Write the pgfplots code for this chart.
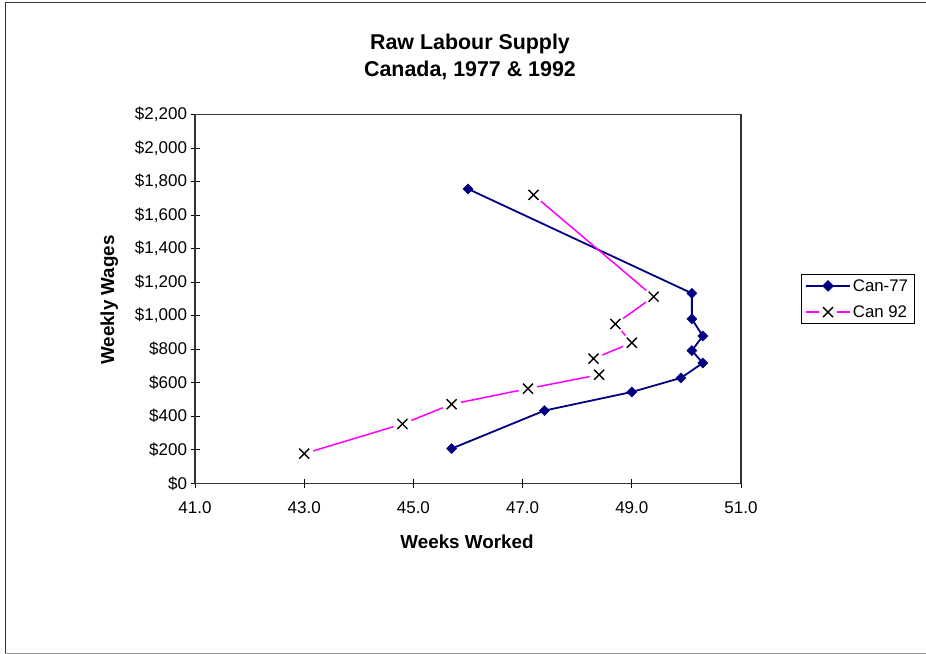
\documentclass[border=0pt]{standalone}
\usepackage{fontspec}
\setmainfont{Liberation Sans}
\usepackage{pgfplots}
\pgfplotsset{compat=1.18}
\definecolor{navy77}{RGB}{0,0,128}
\definecolor{mag92}{RGB}{255,0,255}
\pgfdeclareplotmark{wx}{%
  \pgfpathcircle{\pgfpointorigin}{9.5bp}%
  \pgfusepathqfill
  \pgfpathmoveto{\pgfqpoint{-5bp}{-5bp}}\pgfpathlineto{\pgfqpoint{5bp}{5bp}}%
  \pgfpathmoveto{\pgfqpoint{-5bp}{5bp}}\pgfpathlineto{\pgfqpoint{5bp}{-5bp}}%
  \pgfusepathqstroke}
\begin{document}
\begin{tikzpicture}
\path[use as bounding box] (0,0) rectangle (926bp,654bp);
\draw[black!80, line width=1bp] (5bp,0.8bp) -- (5bp,651.5bp) -- (926bp,651.5bp);
\draw[black!40, line width=1bp] (5bp,0.8bp) -- (926bp,0.8bp);
\begin{axis}[
  at={(195bp,170.7bp)}, anchor=south west,
  scale only axis, width=546bp, height=368.6bp,
  xmin=41, xmax=51, ymin=0, ymax=2200,
  xtick={41,43,45,47,49,51},
  ytick={0,200,400,600,800,1000,1200,1400,1600,1800,2000,2200},
  xtick pos=lower, ytick pos=left,
  tick align=center, major tick length=9bp,
  tick style={black, line width=1bp},
  axis line style={black!80, line width=1.2bp},
  /pgf/number format/assume math mode=true,
  xticklabel style={/pgf/number format/fixed, /pgf/number format/fixed zerofill, /pgf/number format/precision=1, yshift=-10bp},
  yticklabel={\$\pgfmathprintnumber[1000 sep={,}, fixed, precision=0]{\tick}},
  ticklabel style={font=\fontsize{17bp}{20bp}\selectfont},
  legend style={at={(1,0.5)}, anchor=west, xshift=59.7bp, draw=black, line width=0.8bp,
    font=\fontsize{16.8bp}{19bp}\selectfont, inner xsep=4bp, inner ysep=3bp, row sep=9bp},
  legend cell align=left,
]
\addplot[navy77, line width=1.8bp, mark=diamond*, mark size=5bp,
  mark options={solid, fill=navy77, draw=navy77, line width=0.5bp, xscale=1.333},
  legend image code/.code={\draw[navy77, line width=1.8bp] (0bp,0bp) -- (44bp,0bp);
    \path[fill=navy77, draw=navy77, line width=0.5bp] (22bp,5.5bp) -- (27.5bp,0bp) -- (22bp,-5.5bp) -- (16.5bp,0bp) -- cycle;}]
  coordinates {(46.0,1757)(50.1,1134)(50.1,981)(50.3,879)(50.1,792)(50.3,718)(49.9,629)(49.0,545)(47.4,434)(45.7,207)};
\addlegendentry{Can-77}
\addplot[mag92, line width=1.5bp, mark=wx,
  mark options={solid, fill=white, draw=black, line width=1.4bp},
  legend image code/.code={\draw[mag92, line width=1.5bp] (0bp,0bp) -- (13bp,0bp) (31bp,0bp) -- (44bp,0bp);
    \draw[black, line width=1.4bp] (17bp,-5bp) -- (27bp,5bp) (17bp,5bp) -- (27bp,-5bp);}]
  coordinates {(47.2,1721)(49.4,1114)(48.7,951)(49.0,839)(48.3,744)(48.4,648)(47.1,565)(45.7,472)(44.8,354)(43.0,177)};
\addlegendentry{Can 92}
\end{axis}
\node[anchor=base, font=\bfseries\fontsize{21.4bp}{25bp}\selectfont] at (470bp,604bp) {Raw Labour Supply};
\node[anchor=base, font=\bfseries\fontsize{21.4bp}{25bp}\selectfont] at (470bp,577bp) {Canada, 1977 \& 1992};
\node[anchor=base, font=\bfseries\fontsize{18.8bp}{22bp}\selectfont] at (467bp,105.7bp) {Weeks Worked};
\node[anchor=base, rotate=90, font=\bfseries\fontsize{18.8bp}{22bp}\selectfont] at (114bp,354bp) {Weekly Wages};
\end{tikzpicture}
\end{document}
